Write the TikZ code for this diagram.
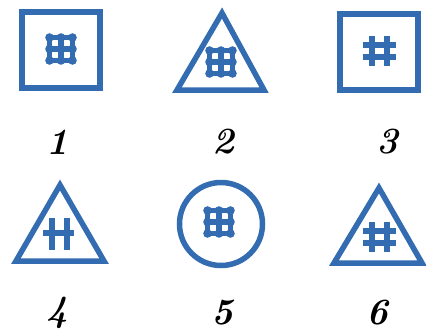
\documentclass[tikz,border=0pt]{standalone}
\usepackage{tikz}
\definecolor{signblue}{RGB}{52,108,178}
\tikzset{sign/.style={draw=signblue, line width=5.5pt, line join=miter},
  glyph/.style={draw=signblue, line width=5.5pt},
  numlabel/.style={font=\fontsize{37}{40}\selectfont\bfseries\itshape, inner sep=0pt}}
\newcommand{\beadgrid}[1]{%
  \begin{scope}[shift={#1}]
  \foreach \t in {-11.5,0,11.5} {\draw[glyph] (-14,\t) -- (14,\t); \draw[glyph] (\t,-14) -- (\t,14);}
  \foreach \a in {-11.5,0,11.5} \foreach \b in {-11.5,0,11.5} \fill[signblue] (\a,\b) circle (4.3pt);
  \end{scope}}
\newcommand{\hashsign}[1]{%
  \begin{scope}[shift={#1}]
  \draw[glyph] (-7,-15) -- (-7,15); \draw[glyph] (8,-15) -- (8,15);
  \draw[glyph] (-16,-6) -- (17,-6); \draw[glyph] (-16,6) -- (17,6);
  \end{scope}}
\begin{document}
\begin{tikzpicture}[x=1pt, y=-1pt]
\useasboundingbox (0,0) rectangle (426,333);
\draw[sign] (22,12) rectangle (100,88);
\beadgrid{(61,49)}
\draw[sign] (222,13) -- (264,90) -- (177,90) -- cycle;
\beadgrid{(221,62)}
\draw[sign] (340,14) rectangle (418,90);
\hashsign{(379,51)}
\draw[sign] (60,185) -- (104,261) -- (16,261) -- cycle;
\draw[glyph, line width=6pt] (52,218) -- (52,250);
\draw[glyph, line width=6pt] (67,218) -- (67,250);
\draw[glyph, line width=6pt] (43,233) -- (74,233);
\draw[sign] (221,224) circle (41.5pt);
\beadgrid{(219,222)}
\draw[sign] (379,188) -- (422,263) -- (334,263) -- cycle;
\hashsign{(379,237)}
\node (one) at (57,142) [numlabel] {1};
\node (two) at (223,142) [numlabel] {2};
\node (three) at (387,142) [numlabel] {3};
\node (four) at (57,313) [numlabel] {4};
\node (five) at (222,313) [numlabel] {5};
\node (six) at (377,313) [numlabel] {6};
\end{tikzpicture}
\end{document}
